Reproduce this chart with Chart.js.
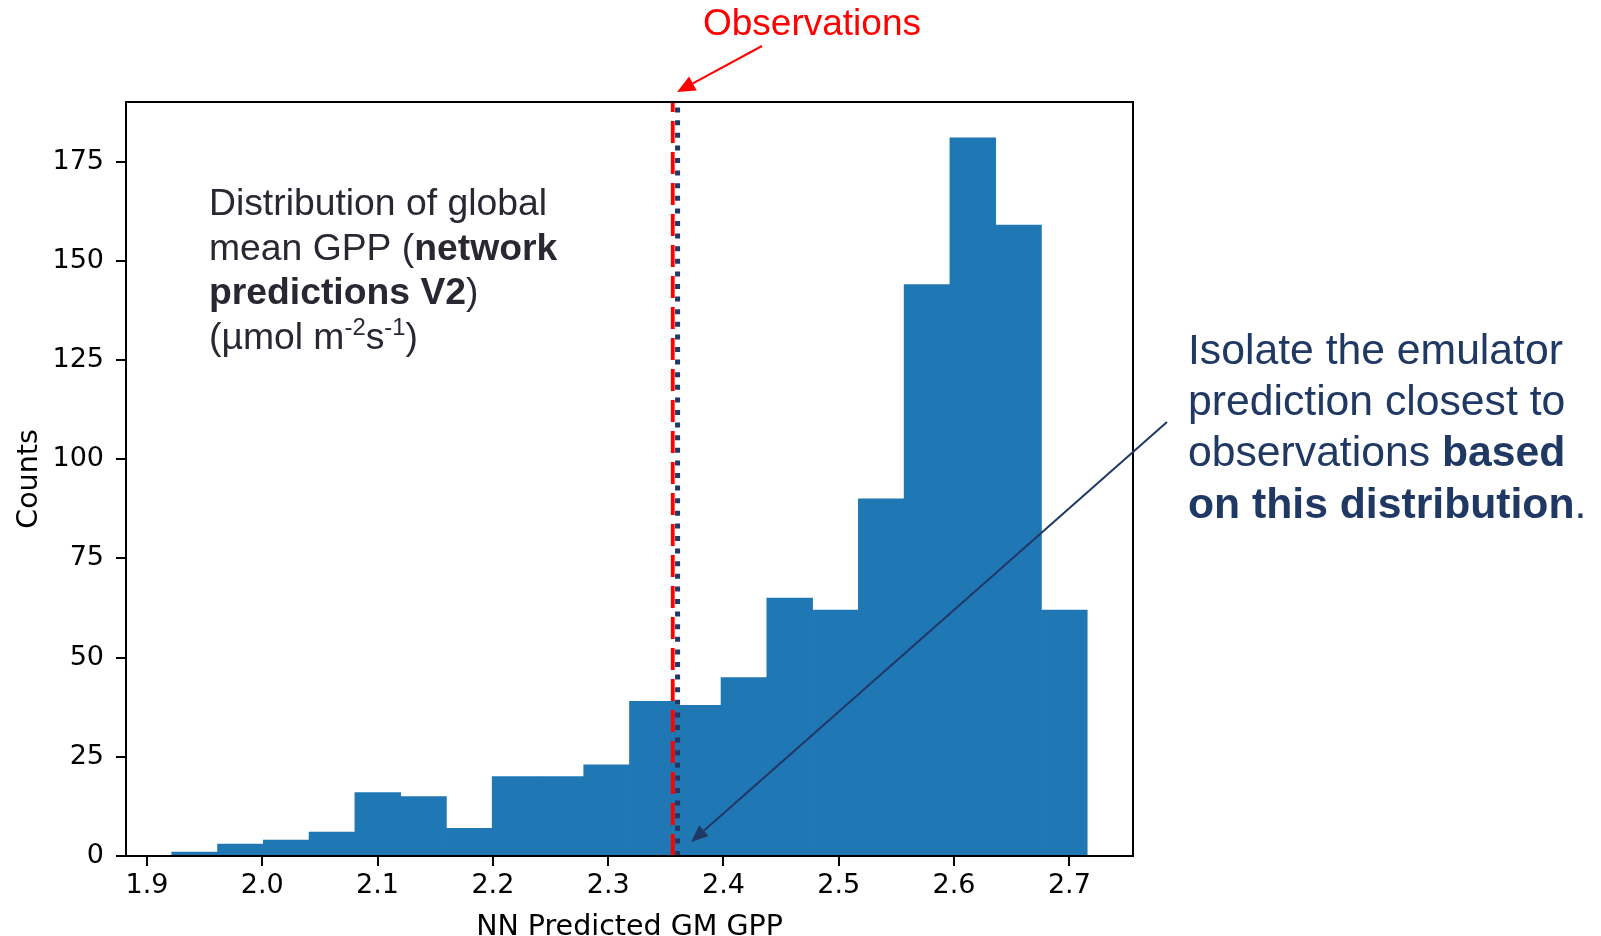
<!DOCTYPE html>
<html>
<head>
<meta charset="utf-8">
<script src="https://cdn.jsdelivr.net/npm/chart.js@4.4.1/dist/chart.umd.min.js"></script>
<style>
  html, body { margin: 0; padding: 0; background: #ffffff; }
  #wrap { width: 1601px; height: 936px; position: relative; }
</style>
</head>
<body>
<div id="wrap"><canvas id="c" width="1601" height="936"></canvas></div>
<script>
// Histogram of network-predicted global mean GPP (20 equal-width bins)
const binEdges = [1.9215, 1.9612, 2.0009, 2.0406, 2.0803, 2.1200, 2.1597, 2.1994, 2.2391, 2.2788,
                  2.3185, 2.3582, 2.3979, 2.4376, 2.4773, 2.5170, 2.5567, 2.5964, 2.6361, 2.6758, 2.7155];
const binCounts = [1, 3, 4, 6, 16, 15, 7, 20, 20, 23, 39, 38, 45, 65, 62, 90, 144, 181, 159, 62];

const xTicks = [1.9, 2.0, 2.1, 2.2, 2.3, 2.4, 2.5, 2.6, 2.7];
const yTicks = [0, 25, 50, 75, 100, 125, 150, 175];
const xRange = [1.8818, 2.7552];
const yRange = [0, 190.05];

// Observed value and the closest emulator prediction
const obsGPP = 2.356;
const closestGPP = 2.3602;

const histColor = '#1f77b4';
const navy = '#203864';
const textGrey = '#282833';
const tickFont = { family: 'DejaVu Sans', size: 27 };
const titleFont = { family: 'DejaVu Sans', size: 28.5 };

const barPoints = binCounts.map((c, i) => ({ x: (binEdges[i] + binEdges[i + 1]) / 2, y: c }));

// Box around the plotting area
const framePlugin = {
  id: 'frame',
  afterDatasetsDraw(chart) {
    const { ctx, chartArea: a } = chart;
    ctx.save();
    ctx.strokeStyle = '#000';
    ctx.lineWidth = 2;
    ctx.strokeRect(a.left, a.top, a.right - a.left, a.bottom - a.top);
    ctx.restore();
  }
};

function drawArrow(ctx, x0, y0, x1, y1, color, width, headLen, headHalf) {
  const ang = Math.atan2(y1 - y0, x1 - x0);
  const bx = x1 - headLen * Math.cos(ang);
  const by = y1 - headLen * Math.sin(ang);
  ctx.save();
  ctx.strokeStyle = color;
  ctx.fillStyle = color;
  ctx.lineWidth = width;
  ctx.beginPath();
  ctx.moveTo(x0, y0);
  ctx.lineTo(bx, by);
  ctx.stroke();
  ctx.beginPath();
  ctx.moveTo(x1, y1);
  ctx.lineTo(bx + headHalf * Math.sin(ang), by - headHalf * Math.cos(ang));
  ctx.lineTo(bx - headHalf * Math.sin(ang), by + headHalf * Math.cos(ang));
  ctx.closePath();
  ctx.fill();
  ctx.restore();
}

// Draw a line made of runs: {t, bold, sup}
function drawRuns(ctx, runs, x, y, size, family, color) {
  ctx.save();
  ctx.fillStyle = color;
  ctx.textAlign = 'left';
  ctx.textBaseline = 'alphabetic';
  let cx = x;
  for (const r of runs) {
    const s = r.sup ? size * 0.64 : size;
    ctx.font = (r.bold ? 'bold ' : '') + s + 'px ' + family;
    const dy = r.sup ? -size * 0.36 : 0;
    ctx.fillText(r.t, cx, y + dy);
    cx += ctx.measureText(r.t).width;
  }
  ctx.restore();
}

const notesPlugin = {
  id: 'notes',
  afterDraw(chart) {
    const { ctx, chartArea: a } = chart;
    const xs = chart.scales.x, ys = chart.scales.y;
    const fam = '"Liberation Sans", Arial, sans-serif';

    // Observation label and pointer
    ctx.save();
    ctx.fillStyle = '#ff0000';
    ctx.font = '37px ' + fam;
    ctx.textAlign = 'center';
    ctx.textBaseline = 'alphabetic';
    ctx.fillText('Observations', 812, 35);
    ctx.restore();
    drawArrow(ctx, 762, 46, xs.getPixelForValue(closestGPP) - 0.5, a.top - 10, '#ff0000', 2, 18, 8);

    // Description inside the plot
    const lx = 209, lsize = 37.3, lh = 44.6, ly = 215;
    drawRuns(ctx, [{ t: 'Distribution of global' }], lx, ly, lsize, fam, textGrey);
    drawRuns(ctx, [{ t: 'mean GPP (' }, { t: 'network', bold: true }], lx, ly + lh, lsize, fam, textGrey);
    drawRuns(ctx, [{ t: 'predictions V2', bold: true }, { t: ')' }], lx, ly + 2 * lh, lsize, fam, textGrey);
    drawRuns(ctx, [{ t: '(\u00b5mol m' }, { t: '-2', sup: true }, { t: 's' }, { t: '-1', sup: true }, { t: ')' }],
             lx, ly + 3 * lh, lsize, fam, textGrey);

    // Note on the right
    const rx = 1188, rsize = 42.7, rh = 51.2, ry = 364;
    drawRuns(ctx, [{ t: 'Isolate the emulator' }], rx, ry, rsize, fam, navy);
    drawRuns(ctx, [{ t: 'prediction closest to' }], rx, ry + rh, rsize, fam, navy);
    drawRuns(ctx, [{ t: 'observations ' }, { t: 'based', bold: true }], rx, ry + 2 * rh, rsize, fam, navy);
    drawRuns(ctx, [{ t: 'on this distribution', bold: true }, { t: '.' }], rx, ry + 3 * rh, rsize, fam, navy);

    drawArrow(ctx, 1167, 422, xs.getPixelForValue(closestGPP) + 13.5, ys.getPixelForValue(0) - 14, navy, 2, 17, 7);
  }
};

new Chart(document.getElementById('c'), {
  type: 'bar',
  data: {
    datasets: [
      {
        type: 'line',
        label: 'Closest prediction',
        data: [{ x: closestGPP, y: yRange[0] }, { x: closestGPP, y: yRange[1] }],
        borderColor: navy,
        borderWidth: 5,
        borderDash: [5, 7.6],
        borderCapStyle: 'butt',
        pointRadius: 0,
        fill: false,
        order: 0
      },
      {
        type: 'line',
        label: 'Observations',
        data: [{ x: obsGPP, y: yRange[0] }, { x: obsGPP, y: yRange[1] }],
        borderColor: '#ff0000',
        borderWidth: 3.8,
        borderDash: [22, 9],
        borderCapStyle: 'butt',
        pointRadius: 0,
        fill: false,
        order: 1
      },
      {
        type: 'bar',
        label: 'Counts',
        data: barPoints,
        backgroundColor: histColor,
        borderWidth: 0,
        barPercentage: 1,
        categoryPercentage: 1,
        order: 2
      }
    ]
  },
  options: {
    responsive: false,
    animation: false,
    devicePixelRatio: 1,
    layout: { padding: { left: 0, top: 102, right: 468, bottom: 0 } },
    plugins: { legend: { display: false }, tooltip: { enabled: false } },
    scales: {
      x: {
        type: 'linear',
        min: xRange[0],
        max: xRange[1],
        offset: false,
        afterBuildTicks: s => { s.ticks = xTicks.map(v => ({ value: v })); },
        afterFit: s => { s.height = 80; },
        grid: { drawOnChartArea: false, color: '#000', lineWidth: 2, tickLength: 10, offset: false },
        border: { display: false },
        ticks: { color: '#000', font: tickFont, padding: 4, maxRotation: 0, autoSkip: false,
                 callback: v => Number(v).toFixed(1) },
        title: { display: true, text: 'NN Predicted GM GPP', color: '#000', font: titleFont,
                 padding: { top: 0, bottom: -9 } }
      },
      y: {
        type: 'linear',
        min: yRange[0],
        max: yRange[1],
        afterBuildTicks: s => { s.ticks = yTicks.map(v => ({ value: v })); },
        afterFit: s => { s.width = 126; },
        grid: { drawOnChartArea: false, color: '#000', lineWidth: 2, tickLength: 10 },
        border: { display: false },
        ticks: { color: '#000', font: tickFont, padding: 12, autoSkip: false, callback: v => String(v) },
        title: { display: true, text: 'Counts', color: '#000', font: titleFont,
                 padding: { top: 12, bottom: 0 } }
      }
    }
  },
  plugins: [framePlugin, notesPlugin]
});
</script>
</body>
</html>
